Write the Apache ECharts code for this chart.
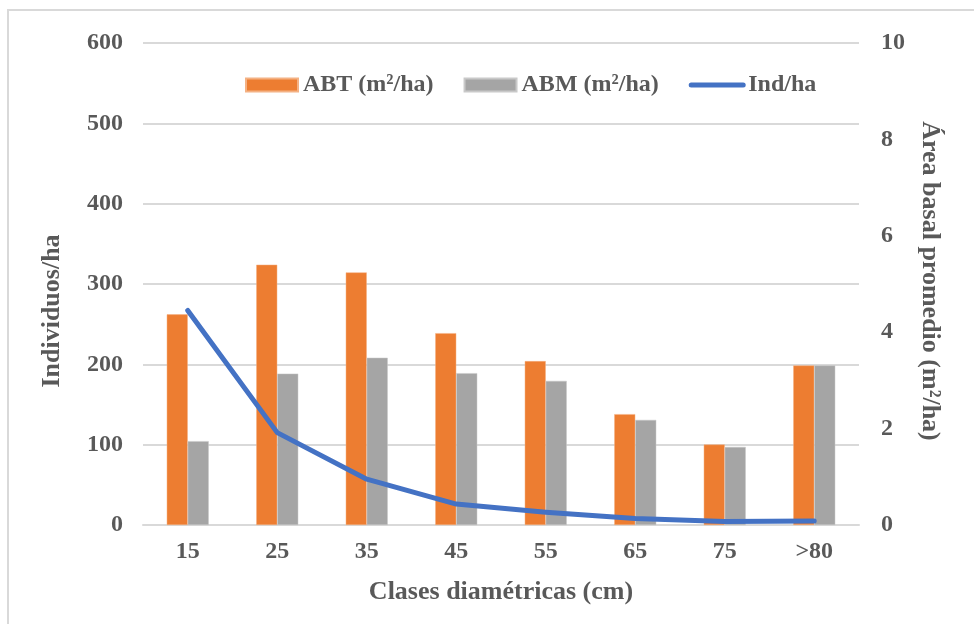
<!DOCTYPE html>
<html>
<head>
<meta charset="utf-8">
<script src="https://cdn.jsdelivr.net/npm/echarts@6/dist/echarts.min.js"></script>
<style>
  html, body { margin: 0; padding: 0; background: #fff; }
  #chart { width: 974px; height: 624px; }
</style>
</head>
<body>
<div id="chart"></div>
<script>
// Diameter classes (cm)
const categories = ['15', '25', '35', '45', '55', '65', '75', '>80'];
// Total basal area per class (m²/ha)
const abt = [4.37, 5.40, 5.24, 3.98, 3.40, 2.30, 1.67, 3.31];
// Mean basal area per class (m²/ha)
const abm = [1.74, 3.14, 3.47, 3.15, 2.99, 2.18, 1.62, 3.31];
// Trees per hectare
const indHa = [267, 115, 57, 26, 16, 8, 4.5, 5];

const font = 'Liberation Serif, Times New Roman, serif';
const textColor = '#595959';
const tickFont = { fontFamily: font, fontWeight: 'bold', fontSize: 24, color: textColor };

const chart = echarts.init(document.getElementById('chart'));
chart.setOption({
  animation: false,
  backgroundColor: '#fff',
  textStyle: { fontFamily: font, fontWeight: 'bold', color: textColor },
  graphic: [{
    type: 'rect',
    shape: { x: 8, y: 10, width: 1000, height: 700 },
    style: { fill: 'none', stroke: '#d9d9d9', lineWidth: 2 },
    silent: true
  }, {
    // left axis title
    type: 'text',
    x: 52, y: 311,
    rotation: Math.PI / 2,
    style: {
      text: 'Individuos/ha',
      x: 0, y: 0,
      align: 'center', verticalAlign: 'middle',
      textAlign: 'center', textVerticalAlign: 'middle',
      font: 'bold 26px ' + font,
      fill: textColor
    },
    silent: true
  }, {
    // right axis title
    type: 'text',
    x: 930, y: 281,
    rotation: -Math.PI / 2,
    style: {
      text: 'Área basal promedio (m²/ha)',
      x: 0, y: 0,
      align: 'center', verticalAlign: 'middle',
      textAlign: 'center', textVerticalAlign: 'middle',
      font: 'bold 26px ' + font,
      fill: textColor
    },
    silent: true
  }],
  legend: {
    top: 68,
    left: 240,
    itemGap: 30,
    itemWidth: 52,
    itemHeight: 13,
    textStyle: { fontFamily: font, fontWeight: 'bold', fontSize: 24, color: textColor },
    data: [
      { name: 'ABT (m²/ha)', icon: 'rect' },
      { name: 'ABM (m²/ha)', icon: 'rect' },
      { name: 'Ind/ha', itemStyle: { opacity: 0 }, lineStyle: { width: 5, cap: 'round', color: '#4472c4' } }
    ]
  },
  grid: { left: 143, right: 115, top: 43, bottom: 99 },
  xAxis: {
    type: 'category',
    data: categories,
    axisTick: { show: false },
    axisLine: { lineStyle: { color: '#d9d9d9', width: 2 } },
    axisLabel: Object.assign({ margin: 15 }, tickFont),
    name: 'Clases diamétricas (cm)',
    nameLocation: 'middle',
    nameGap: 54,
    nameTextStyle: { fontFamily: font, fontWeight: 'bold', fontSize: 26, color: textColor }
  },
  yAxis: [{
    type: 'value',
    min: 0, max: 600, interval: 100,
    axisLine: { show: false },
    axisTick: { show: false },
    splitLine: { lineStyle: { color: '#d9d9d9', width: 2 } },
    axisLabel: Object.assign({ margin: 20 }, tickFont)
  }, {
    type: 'value',
    min: 0, max: 10, interval: 2,
    axisLine: { show: false },
    axisTick: { show: false },
    splitLine: { show: false },
    axisLabel: Object.assign({ margin: 22 }, tickFont)
  }],
  series: [{
    name: 'ABT (m²/ha)',
    type: 'bar',
    yAxisIndex: 1,
    data: abt,
    barWidth: 21,
    barGap: '0%',
    itemStyle: { color: '#ed7d31', borderColor: '#f4b183', borderWidth: 0.5 }
  }, {
    name: 'ABM (m²/ha)',
    type: 'bar',
    yAxisIndex: 1,
    data: abm,
    barWidth: 21,
    barGap: '0%',
    itemStyle: { color: '#a5a5a5', borderColor: '#c9c9c9', borderWidth: 0.5 }
  }, {
    name: 'Ind/ha',
    type: 'line',
    yAxisIndex: 0,
    data: indHa,
    symbol: 'none',
    lineStyle: { color: '#4472c4', width: 5, cap: 'round', join: 'round' },
    itemStyle: { color: '#4472c4' },
    z: 5
  }]
});
</script>
</body>
</html>
